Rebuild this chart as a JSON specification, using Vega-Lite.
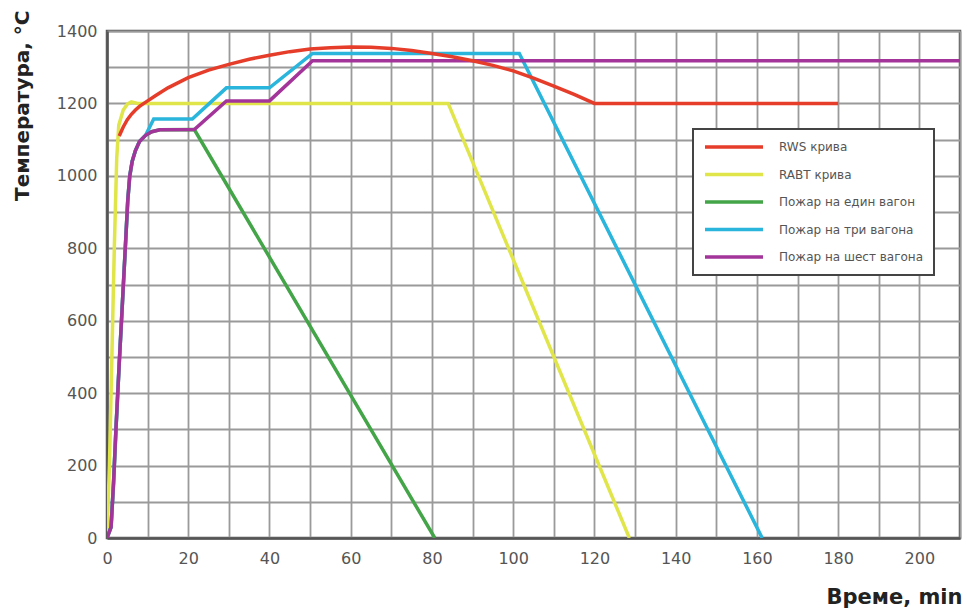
{
  "$schema": "https://vega.github.io/schema/vega-lite/v6.json",
  "autosize": {"type": "none"},
  "width": 853,
  "height": 507,
  "padding": {"left": 107, "top": 31, "right": 7, "bottom": 71},
  "background": "white",
  "config": {
    "font": "DejaVu Sans",
    "view": {"stroke": "#555555", "strokeWidth": 2.5},
    "axis": {
      "grid": true,
      "gridColor": "#9a9a9a",
      "gridWidth": 1.8,
      "ticks": false,
      "domainColor": "#555555",
      "domainWidth": 2.5,
      "labelFont": "DejaVu Sans",
      "labelFontSize": 16,
      "labelColor": "#555555",
      "titleFont": "DejaVu Sans",
      "titleFontWeight": "bold",
      "titleColor": "#222222"
    }
  },
  "data": {
    "values": [
      {"s": "RWS крива", "t": 3, "T": 1110},
      {"s": "RWS крива", "t": 4, "T": 1135},
      {"s": "RWS крива", "t": 5, "T": 1155},
      {"s": "RWS крива", "t": 6, "T": 1170},
      {"s": "RWS крива", "t": 7, "T": 1182},
      {"s": "RWS крива", "t": 8, "T": 1192},
      {"s": "RWS крива", "t": 10, "T": 1207},
      {"s": "RWS крива", "t": 12, "T": 1222},
      {"s": "RWS крива", "t": 15, "T": 1243},
      {"s": "RWS крива", "t": 20, "T": 1271},
      {"s": "RWS крива", "t": 25, "T": 1292},
      {"s": "RWS крива", "t": 30, "T": 1308},
      {"s": "RWS крива", "t": 35, "T": 1322},
      {"s": "RWS крива", "t": 40, "T": 1333},
      {"s": "RWS крива", "t": 45, "T": 1343},
      {"s": "RWS крива", "t": 50, "T": 1350},
      {"s": "RWS крива", "t": 55, "T": 1354},
      {"s": "RWS крива", "t": 60, "T": 1356},
      {"s": "RWS крива", "t": 65, "T": 1355},
      {"s": "RWS крива", "t": 70, "T": 1352},
      {"s": "RWS крива", "t": 75, "T": 1346},
      {"s": "RWS крива", "t": 80, "T": 1338},
      {"s": "RWS крива", "t": 85, "T": 1329},
      {"s": "RWS крива", "t": 90, "T": 1318},
      {"s": "RWS крива", "t": 95, "T": 1305},
      {"s": "RWS крива", "t": 100, "T": 1290},
      {"s": "RWS крива", "t": 105, "T": 1270},
      {"s": "RWS крива", "t": 110, "T": 1248},
      {"s": "RWS крива", "t": 115, "T": 1225},
      {"s": "RWS крива", "t": 120, "T": 1200},
      {"s": "RWS крива", "t": 150, "T": 1200},
      {"s": "RWS крива", "t": 180, "T": 1200},

      {"s": "RABT крива", "t": 0, "T": 0},
      {"s": "RABT крива", "t": 0.6, "T": 200},
      {"s": "RABT крива", "t": 1.2, "T": 500},
      {"s": "RABT крива", "t": 1.8, "T": 800},
      {"s": "RABT крива", "t": 2.4, "T": 1050},
      {"s": "RABT крива", "t": 2.9, "T": 1140},
      {"s": "RABT крива", "t": 4, "T": 1182},
      {"s": "RABT крива", "t": 5, "T": 1198},
      {"s": "RABT крива", "t": 6, "T": 1204},
      {"s": "RABT крива", "t": 7.5, "T": 1200},
      {"s": "RABT крива", "t": 84, "T": 1200},
      {"s": "RABT крива", "t": 128.6, "T": 0},

      {"s": "Пожар на един вагон", "t": 0, "T": 0},
      {"s": "Пожар на един вагон", "t": 1, "T": 30},
      {"s": "Пожар на един вагон", "t": 1.6, "T": 150},
      {"s": "Пожар на един вагон", "t": 2.2, "T": 300},
      {"s": "Пожар на един вагон", "t": 3, "T": 480},
      {"s": "Пожар на един вагон", "t": 3.8, "T": 650},
      {"s": "Пожар на един вагон", "t": 4.5, "T": 800},
      {"s": "Пожар на един вагон", "t": 5.1, "T": 930},
      {"s": "Пожар на един вагон", "t": 5.6, "T": 1000},
      {"s": "Пожар на един вагон", "t": 6.2, "T": 1040},
      {"s": "Пожар на един вагон", "t": 7, "T": 1070},
      {"s": "Пожар на един вагон", "t": 8, "T": 1095},
      {"s": "Пожар на един вагон", "t": 9.5, "T": 1112},
      {"s": "Пожар на един вагон", "t": 11, "T": 1122},
      {"s": "Пожар на един вагон", "t": 13, "T": 1127},
      {"s": "Пожар на един вагон", "t": 21.5, "T": 1128},
      {"s": "Пожар на един вагон", "t": 80.7, "T": 0},

      {"s": "Пожар на три вагона", "t": 0, "T": 0},
      {"s": "Пожар на три вагона", "t": 1, "T": 30},
      {"s": "Пожар на три вагона", "t": 1.6, "T": 150},
      {"s": "Пожар на три вагона", "t": 2.2, "T": 300},
      {"s": "Пожар на три вагона", "t": 3, "T": 480},
      {"s": "Пожар на три вагона", "t": 3.8, "T": 650},
      {"s": "Пожар на три вагона", "t": 4.5, "T": 800},
      {"s": "Пожар на три вагона", "t": 5.1, "T": 930},
      {"s": "Пожар на три вагона", "t": 5.6, "T": 1000},
      {"s": "Пожар на три вагона", "t": 6.2, "T": 1040},
      {"s": "Пожар на три вагона", "t": 7, "T": 1070},
      {"s": "Пожар на три вагона", "t": 8, "T": 1095},
      {"s": "Пожар на три вагона", "t": 9.5, "T": 1112},
      {"s": "Пожар на три вагона", "t": 11.5, "T": 1157},
      {"s": "Пожар на три вагона", "t": 21, "T": 1157},
      {"s": "Пожар на три вагона", "t": 29.4, "T": 1243},
      {"s": "Пожар на три вагона", "t": 40, "T": 1243},
      {"s": "Пожар на три вагона", "t": 50.6, "T": 1338},
      {"s": "Пожар на три вагона", "t": 101.5, "T": 1338},
      {"s": "Пожар на три вагона", "t": 161.3, "T": 0},

      {"s": "Пожар на шест вагона", "t": 0, "T": 0},
      {"s": "Пожар на шест вагона", "t": 1, "T": 30},
      {"s": "Пожар на шест вагона", "t": 1.6, "T": 150},
      {"s": "Пожар на шест вагона", "t": 2.2, "T": 300},
      {"s": "Пожар на шест вагона", "t": 3, "T": 480},
      {"s": "Пожар на шест вагона", "t": 3.8, "T": 650},
      {"s": "Пожар на шест вагона", "t": 4.5, "T": 800},
      {"s": "Пожар на шест вагона", "t": 5.1, "T": 930},
      {"s": "Пожар на шест вагона", "t": 5.6, "T": 1000},
      {"s": "Пожар на шест вагона", "t": 6.2, "T": 1040},
      {"s": "Пожар на шест вагона", "t": 7, "T": 1070},
      {"s": "Пожар на шест вагона", "t": 8, "T": 1095},
      {"s": "Пожар на шест вагона", "t": 9.5, "T": 1112},
      {"s": "Пожар на шест вагона", "t": 11, "T": 1122},
      {"s": "Пожар на шест вагона", "t": 13, "T": 1127},
      {"s": "Пожар на шест вагона", "t": 21.5, "T": 1128},
      {"s": "Пожар на шест вагона", "t": 29.4, "T": 1207},
      {"s": "Пожар на шест вагона", "t": 40, "T": 1207},
      {"s": "Пожар на шест вагона", "t": 50.6, "T": 1318},
      {"s": "Пожар на шест вагона", "t": 210, "T": 1318}
    ]
  },
  "encoding": {
    "x": {
      "field": "t",
      "type": "quantitative",
      "scale": {"domain": [0, 210], "nice": false},
      "axis": {
        "values": [0, 10, 20, 30, 40, 50, 60, 70, 80, 90, 100, 110, 120, 130, 140, 150, 160, 170, 180, 190, 200, 210],
        "labelExpr": "datum.value % 20 === 0 ? datum.label : ''",
        "labelPadding": 12,
        "labelFlush": false,
        "title": "Време, min",
        "titleFontSize": 21,
        "titleAlign": "left",
        "titleBaseline": "middle",
        "titleX": 719,
        "titleY": 59
      }
    },
    "y": {
      "field": "T",
      "type": "quantitative",
      "scale": {"domain": [0, 1400], "nice": false},
      "axis": {
        "values": [0, 100, 200, 300, 400, 500, 600, 700, 800, 900, 1000, 1100, 1200, 1300, 1400],
        "labelExpr": "datum.value % 200 === 0 ? datum.label : ''",
        "format": "d",
        "labelPadding": 10,
        "labelFlush": false,
        "title": "Температура, °C",
        "titleFontSize": 20,
        "titleAngle": -90,
        "titleAlign": "right",
        "titleBaseline": "middle",
        "titleX": -85,
        "titleY": -21
      }
    },
    "color": {
      "field": "s",
      "type": "nominal",
      "scale": {
        "domain": ["RWS крива", "RABT крива", "Пожар на един вагон", "Пожар на три вагона", "Пожар на шест вагона"],
        "range": ["#e63c2a", "#e0e54a", "#43a548", "#29b5dc", "#a3359a"]
      },
      "legend": {
        "title": null,
        "orient": "none",
        "legendX": 586,
        "legendY": 98,
        "symbolType": "stroke",
        "symbolSize": 3364,
        "symbolStrokeWidth": 3.5,
        "clipHeight": 16,
        "rowPadding": 11.5,
        "padding": 10,
        "labelFont": "DejaVu Sans",
        "labelFontSize": 12,
        "labelColor": "#555555",
        "labelOffset": 14,
        "labelLimit": 300,
        "strokeColor": "#444444",
        "fillColor": "white",
        "encode": {"legend": {"update": {"strokeWidth": {"value": 2}}}}
      }
    }
  },
  "layer": [
    {"transform": [{"filter": "datum.s === 'RABT крива'"}], "mark": {"type": "line", "strokeWidth": 3.5, "clip": true}},
    {"transform": [{"filter": "datum.s === 'Пожар на един вагон'"}], "mark": {"type": "line", "strokeWidth": 3.5, "clip": true}},
    {"transform": [{"filter": "datum.s === 'Пожар на три вагона'"}], "mark": {"type": "line", "strokeWidth": 3.5, "clip": true}},
    {"transform": [{"filter": "datum.s === 'Пожар на шест вагона'"}], "mark": {"type": "line", "strokeWidth": 3.5, "clip": true}},
    {"transform": [{"filter": "datum.s === 'RWS крива'"}], "mark": {"type": "line", "strokeWidth": 3.5, "clip": true}}
  ]
}
